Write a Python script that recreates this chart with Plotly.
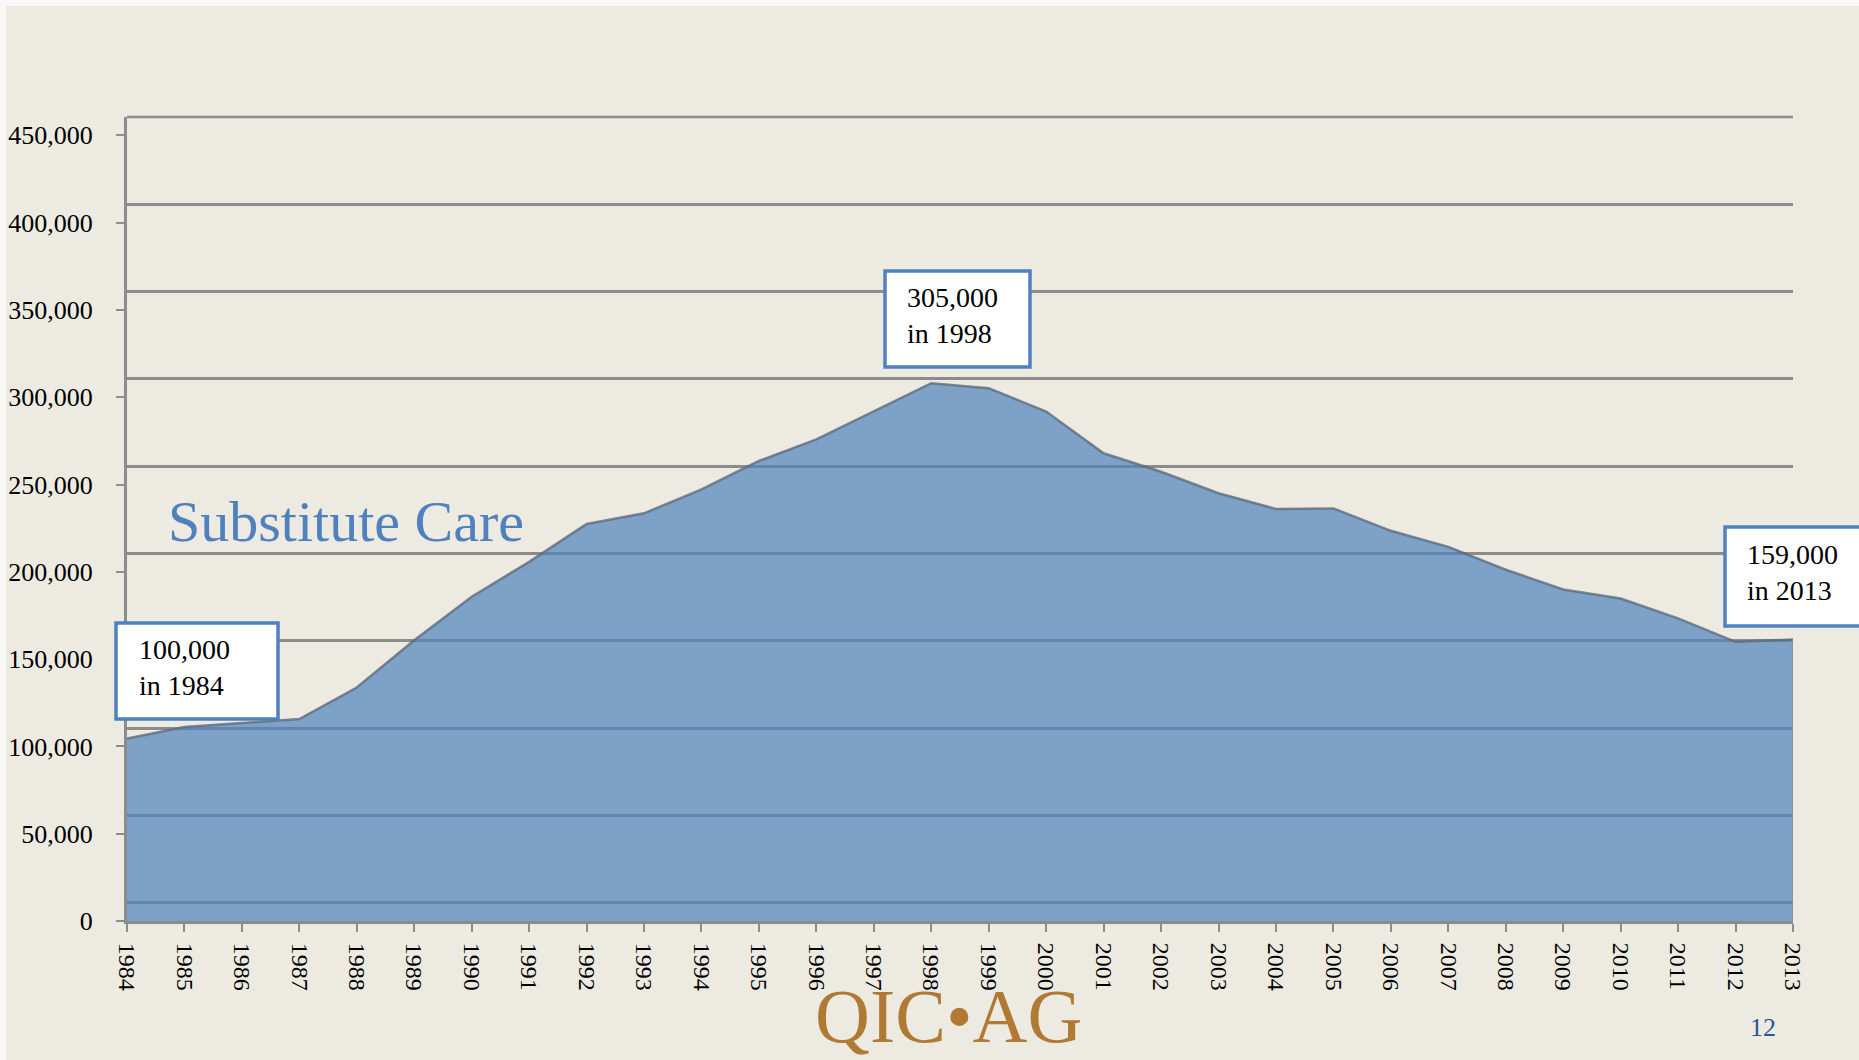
import plotly.graph_objects as go

# ---- data ----
years = list(range(1984, 2014))
children_in_care = [
    104500, 111100, 113400, 115700, 133700, 160800, 185700, 205700, 227400, 233500,
    247200, 263500, 275900, 291800, 308000, 305200, 291800, 267900, 257300, 245000,
    236000, 236300, 223500, 214300, 201200, 189900, 184700, 173300, 159900, 161200,
]
y_tick_vals = [0, 50000, 100000, 150000, 200000, 250000, 300000, 350000, 400000, 450000]
y_tick_text = ["0", "50,000", "100,000", "150,000", "200,000", "250,000",
               "300,000", "350,000", "400,000", "450,000"]
callouts = [
    ("100,000<br>in 1984", (116, 278, 623, 719), 137),
    ("305,000<br>in 1998", (885, 1030, 271, 367), 905),
    ("159,000<br>in 2013", (1725, 1875, 527, 626), 1745),
]
series_title = "Substitute Care"

W, H = 1859, 1060
ML, MR, MT, MB = 127, 66, 117, 139
PW, PH = W - ML - MR, H - MT - MB


def px(x):
    return (x - ML) / PW


def py(y):
    return (H - MB - y) / PH


BG = "#EDEBE1"
GRID = "#8C8C8C"
BLUE = "rgb(79,129,189)"
FONT = "Liberation Serif"

fig = go.Figure()
fig.add_trace(go.Scatter(
    x=years, y=children_in_care, mode="lines", fill="tozeroy",
    fillcolor="rgba(79,129,189,0.70)",
    line=dict(color="rgba(95,108,125,0.80)", width=2.5),
    hoverinfo="x+y", showlegend=False,
))
# right edge of the area outline
fig.add_trace(go.Scatter(
    x=[years[-1], years[-1]], y=[0, children_in_care[-1]], mode="lines",
    line=dict(color="rgba(140,140,140,0.8)", width=2),
    hoverinfo="skip", showlegend=False,
))

fig.update_layout(
    width=W, height=H,
    margin=dict(l=ML, r=MR, t=MT, b=MB),
    paper_bgcolor=BG, plot_bgcolor=BG,
    font=dict(family=FONT, color="black"),
    xaxis=dict(
        range=[years[0], years[-1]], tickmode="array", tickvals=years,
        ticktext=[str(y) for y in years], tickangle=90,
        tickfont=dict(size=24, family=FONT, color="black"),
        showgrid=False, zeroline=False,
        showline=True, linecolor=GRID, linewidth=3,
        ticks="outside", ticklen=8, tickwidth=2, tickcolor=GRID,
        ticklabelstandoff=6, automargin=False,
    ),
    yaxis=dict(
        range=[0, 460500], tickmode="array", tickvals=y_tick_vals, ticktext=y_tick_text,
        tickfont=dict(size=26, family=FONT, color="black"),
        showgrid=False, zeroline=False,
        showline=True, linecolor=GRID, linewidth=3,
        ticks="outside", ticklen=8, tickwidth=2, tickcolor=GRID,
        ticklabelstandoff=18, automargin=False,
        minor=dict(tick0=10500, dtick=50000, showgrid=True, gridcolor=GRID,
                   gridwidth=2.5, ticks=""),
    ),
)

shapes = [
    dict(type="rect", xref="paper", yref="paper", x0=px(0), x1=px(6), y0=py(0), y1=py(H),
         fillcolor="#F8F8F6", line=dict(width=0), layer="below"),
    dict(type="rect", xref="paper", yref="paper", x0=px(0), x1=px(W), y0=py(0), y1=py(6),
         fillcolor="#F8F8F6", line=dict(width=0), layer="below"),
    # top gridline (at the upper edge of the value range)
    dict(type="line", xref="paper", yref="paper", x0=0, x1=1, y0=1, y1=1,
         line=dict(color=GRID, width=2.5), layer="below"),
]
annotations = []
for text, (x0, x1, y0, y1), tx in callouts:
    shapes.append(dict(type="rect", xref="paper", yref="paper",
                       x0=px(x0), x1=px(x1), y0=py(y1), y1=py(y0),
                       fillcolor="white", line=dict(color=BLUE, width=3.5), layer="above"))
    annotations.append(dict(xref="paper", yref="paper", x=px(tx), y=py((y0 + y1) / 2 - 4),
                            xanchor="left", yanchor="middle", align="left", showarrow=False,
                            text=text, font=dict(size=28, family=FONT, color="black")))

annotations.append(dict(xref="paper", yref="paper", x=px(166), y=py(521), xanchor="left",
                        yanchor="middle", showarrow=False, text=series_title,
                        font=dict(size=58, family=FONT, color="rgb(79,129,189)")))
annotations.append(dict(xref="paper", yref="paper", x=px(948), y=py(1060), xanchor="center",
                        yanchor="bottom", showarrow=False, text="QIC•AG",
                        font=dict(size=76, family=FONT, color="#B07A35")))
annotations.append(dict(xref="paper", yref="paper", x=px(1763), y=py(1027), xanchor="center",
                        yanchor="middle", showarrow=False, text="12",
                        font=dict(size=26, family=FONT, color="#2A5592")))

fig.update_layout(shapes=shapes, annotations=annotations)
fig.write_html("out.html", config={"displayModeBar": False},
               post_script="document.body.style.margin='0';document.body.style.overflow='hidden';")
